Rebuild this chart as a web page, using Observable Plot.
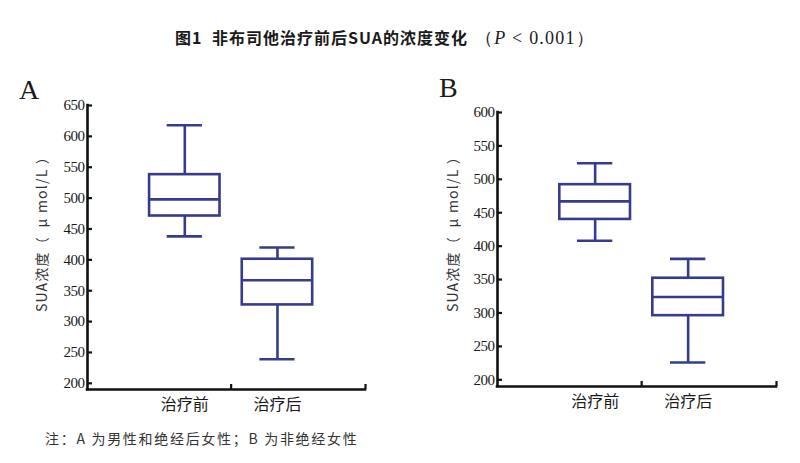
<!DOCTYPE html>
<html>
<head>
<meta charset="utf-8">
<script src="https://cdn.jsdelivr.net/npm/d3@7"></script>
<script src="https://cdn.jsdelivr.net/npm/@observablehq/plot@0.6"></script>
<style>
  html, body { margin: 0; padding: 0; background: #fff; }
  #wrap { position: relative; width: 800px; height: 463px; overflow: hidden; background: #fff; color: #1a1a1a; }
  .abs { position: absolute; white-space: nowrap; }
  #t1, #t2 { font-family: "Noto Sans CJK SC", sans-serif; font-weight: bold; font-size: 16px; line-height: 16px; top: 29px; letter-spacing: 1px; }
  #t3 { font-family: "Liberation Serif", serif; font-size: 18px; line-height: 16px; top: 30px; letter-spacing: 1.2px; }
  .letter { font-family: "Liberation Serif", serif; font-size: 28px; line-height: 28px; }
  #note { font-family: "Noto Sans CJK SC", sans-serif; font-size: 14px; line-height: 14px; top: 431px; left: 45px; letter-spacing: 1.7px; color: #333; }
  #panelA { position: absolute; left: 0; top: 60px; }
  #panelB { position: absolute; left: 400px; top: 60px; }
</style>
</head>
<body>
<div id="wrap">
  <div class="abs" id="t1" style="left:175px">图1</div>
  <div class="abs" id="t2" style="left:212px">非布司他治疗前后SUA的浓度变化</div>
  <div class="abs" id="t3" style="left:475px">（<i>P</i> &lt; 0.001）</div>
  <div class="abs letter" style="left:19px; top:76px">A</div>
  <div class="abs letter" style="left:439px; top:74px">B</div>
  <div id="panelA"></div>
  <div id="panelB"></div>
  <div class="abs" id="note">注：A 为男性和绝经后女性；B 为非绝经女性</div>
</div>
<script>
// Categories
const categories = ["治疗前", "治疗后"];
const categoryPositions = [1, 2];

// Panel A (男性和绝经后女性): box statistics
const lowA  = [438, 239];
const q1A   = [471, 327];
const medA  = [498, 367];
const q3A   = [538, 401];
const highA = [618, 420];
const yTicksA = [200, 250, 300, 350, 400, 450, 500, 550, 600, 650];

// Panel B (非绝经女性)
const lowB  = [408, 226];
const q1B   = [440, 296];
const medB  = [467, 324];
const q3B   = [492, 352];
const highB = [524, 381];
const yTicksB = [200, 250, 300, 350, 400, 450, 500, 550, 600];

const yLabel = "SUA浓度（\u00a0\u00a0μ\u00a0mol/L\u00a0）";
const xTickMarks = [1.5, 2.95];

const boxColor = "#363c8a";
const axisColor = "#111";
const boxHalf = 0.38;
const capHalf = 0.19;
const xDomain = [-0.05, 2.95];
const SERIF = "'Liberation Serif', serif";
const SANS = "'Noto Sans CJK SC', sans-serif";

function buildRows(low, q1, med, q3, high) {
  return categories.map((c, i) => ({
    cat: c, x: categoryPositions[i],
    low: low[i], q1: q1[i], med: med[i], q3: q3[i], high: high[i]
  }));
}

function panel(rows, yTicks, yMin, layout) {
  const yMax = yTicks[yTicks.length - 1];
  const svg = Plot.plot({
    width: 400,
    height: 360,
    marginLeft: layout.ml, marginRight: layout.mr, marginTop: layout.mt, marginBottom: layout.mb,
    x: {type: "linear", domain: xDomain},
    y: {type: "linear", domain: [yMin, yMax]},
    style: {background: "transparent", color: axisColor, overflow: "visible"},
    marks: [
      // whiskers
      Plot.ruleX(rows, {x: "x", y1: "q3", y2: "high", stroke: boxColor, strokeWidth: 2.6}),
      Plot.ruleX(rows, {x: "x", y1: "low", y2: "q1", stroke: boxColor, strokeWidth: 2.6}),
      // caps
      Plot.ruleY(rows, {y: "high", x1: d => d.x - capHalf, x2: d => d.x + capHalf, stroke: boxColor, strokeWidth: 2.6}),
      Plot.ruleY(rows, {y: "low", x1: d => d.x - capHalf, x2: d => d.x + capHalf, stroke: boxColor, strokeWidth: 2.6}),
      // boxes
      Plot.rect(rows, {x1: d => d.x - boxHalf, x2: d => d.x + boxHalf, y1: "q1", y2: "q3", fill: "white", stroke: boxColor, strokeWidth: 2.6}),
      // median
      Plot.ruleY(rows, {y: "med", x1: d => d.x - boxHalf, x2: d => d.x + boxHalf, stroke: boxColor, strokeWidth: 2.6}),
      // axis lines
      Plot.ruleY([yMin], {stroke: axisColor, strokeWidth: 2.6, strokeLinecap: "square"}),
      Plot.ruleX([xDomain[0]], {y1: yMin, y2: yMax, stroke: axisColor, strokeWidth: 2.6, strokeLinecap: "square"}),
      // y ticks (inward)
      Plot.axisY({ticks: yTicks, tickSize: -5, text: null, label: null, strokeWidth: 2.2, color: axisColor}),
      // y tick labels
      Plot.text(yTicks, {x: xDomain[0], y: d => d, text: d => String(d), textAnchor: "end", dx: -3,
        fontSize: 15, fontFamily: SERIF, fill: "#1a1a1a"}),
      // x ticks (inward)
      Plot.axisX({ticks: xTickMarks, tickSize: -5, text: null, label: null, strokeWidth: 2.2, color: axisColor}),
      // category labels
      Plot.text(categories, {x: (d, i) => categoryPositions[i], y: yMin, text: d => d, lineAnchor: "top", dy: 9,
        fontSize: 16, fontFamily: SANS, fill: "#1a1a1a"}),
      // y axis title
      Plot.text([yLabel], {text: d => d, frameAnchor: "left", textAnchor: "middle", rotate: -90, dx: layout.ldx, dy: layout.ldy,
        fontSize: 14, fontFamily: SANS, fill: "#333"})
    ]
  });
  // enforce fonts inline on text elements
  svg.querySelectorAll("text").forEach(t => {
    const s = t.textContent;
    if (/^\d+$/.test(s)) { t.style.fontFamily = SERIF; t.style.fontSize = "15px"; t.style.letterSpacing = "-0.5px"; }
    else if (s === yLabel) { t.style.fontFamily = SANS; t.style.fontSize = "14px"; t.style.letterSpacing = "1.2px"; }
    else { t.style.fontFamily = SANS; t.style.fontSize = "16px"; }
  });
  return svg;
}

document.getElementById("panelA").append(
  panel(buildRows(lowA, q1A, medA, q3A, highA), yTicksA, 190, {ml: 87, mr: 35, mt: 45, mb: 31, ldx: -45, ldy: -17})
);
document.getElementById("panelB").append(
  panel(buildRows(lowB, q1B, medB, q3B, highB), yTicksB, 190, {ml: 97, mr: 24, mt: 52, mb: 34, ldx: -44, ldy: -19})
);
</script>
</body>
</html>
